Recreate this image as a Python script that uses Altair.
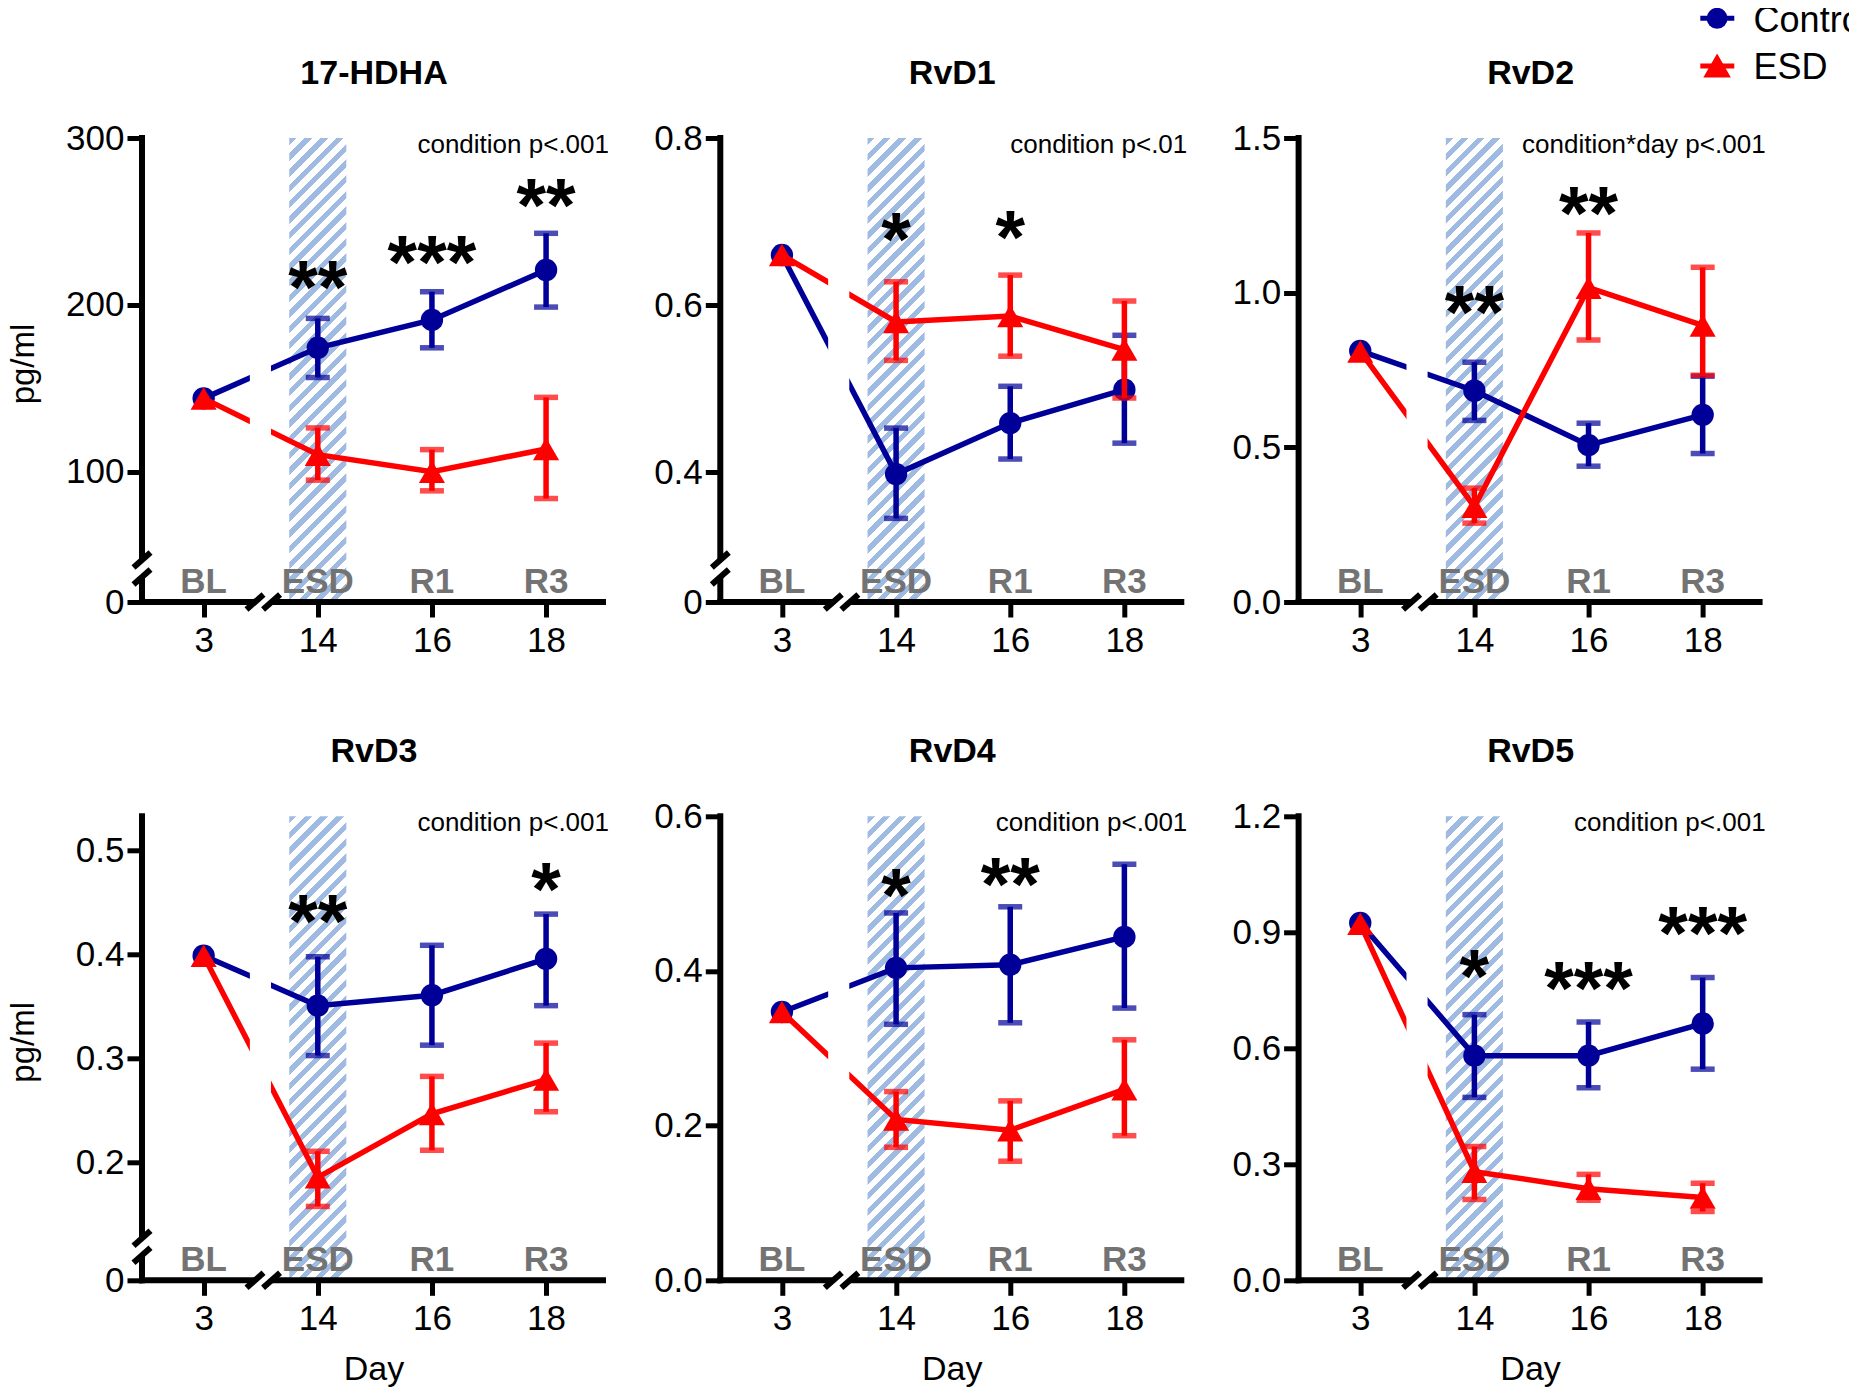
import altair as alt
import pandas as pd

# ---------------- data ----------------
days = [3, 14, 16, 18]
phases = ["BL", "ESD", "R1", "R3"]
esd_window = [13.5, 14.5]

names = ["17-HDHA", "RvD1", "RvD2", "RvD3", "RvD4", "RvD5"]
stats = ["condition p<.001", "condition p<.01", "condition*day p<.001",
         "condition p<.001", "condition p<.001", "condition p<.001"]

hdha_ctrl = [144.0, 174.3, 191.0, 220.9]
hdha_ctrl_hi = [None, 191.9, 207.9, 242.9]
hdha_ctrl_lo = [None, 156.5, 174.3, 198.7]
hdha_esd = [144.0, 110.3, 100.0, 113.7]
hdha_esd_hi = [None, 126.3, 113.3, 144.6]
hdha_esd_lo = [None, 95.0, 88.6, 84.0]
hdha_star_day = [14, 16, 18]
hdha_star = ["**", "***", "**"]
hdha_star_y = [216.6, 231.4, 265.7]
hdha_ticks = [0, 100, 200, 300]

rvd1_ctrl = [0.660, 0.398, 0.459, 0.499]
rvd1_ctrl_hi = [None, 0.453, 0.503, 0.564]
rvd1_ctrl_lo = [None, 0.345, 0.416, 0.435]
rvd1_esd = [0.660, 0.580, 0.587, 0.547]
rvd1_esd_hi = [None, 0.628, 0.636, 0.605]
rvd1_esd_lo = [None, 0.534, 0.539, 0.489]
rvd1_star_day = [14, 16]
rvd1_star = ["*", "*"]
rvd1_star_y = [0.691, 0.694]
rvd1_ticks = [0, 0.4, 0.6, 0.8]

rvd2_ctrl = [0.812, 0.683, 0.507, 0.605]
rvd2_ctrl_hi = [None, 0.775, 0.578, 0.730]
rvd2_ctrl_lo = [None, 0.587, 0.439, 0.480]
rvd2_esd = [0.810, 0.308, 1.016, 0.894]
rvd2_esd_hi = [None, 0.368, 1.193, 1.082]
rvd2_esd_lo = [None, 0.255, 0.847, 0.733]
rvd2_star_day = [14, 16]
rvd2_star = ["**", "**"]
rvd2_star_y = [0.969, 1.29]
rvd2_ticks = [0, 0.5, 1.0, 1.5]

rvd3_ctrl = [0.399, 0.351, 0.361, 0.396]
rvd3_ctrl_hi = [None, 0.398, 0.409, 0.439]
rvd3_ctrl_lo = [None, 0.303, 0.313, 0.351]
rvd3_esd = [0.399, 0.186, 0.247, 0.280]
rvd3_esd_hi = [None, 0.211, 0.283, 0.315]
rvd3_esd_lo = [None, 0.158, 0.212, 0.249]
rvd3_star_day = [14, 18]
rvd3_star = ["**", "*"]
rvd3_star_y = [0.442, 0.473]
rvd3_ticks = [0, 0.2, 0.3, 0.4, 0.5]

rvd4_ctrl = [0.347, 0.404, 0.408, 0.444]
rvd4_ctrl_hi = [None, 0.475, 0.483, 0.538]
rvd4_ctrl_lo = [None, 0.331, 0.333, 0.352]
rvd4_esd = [0.347, 0.208, 0.194, 0.247]
rvd4_esd_hi = [None, 0.244, 0.232, 0.311]
rvd4_esd_lo = [None, 0.172, 0.154, 0.187]
rvd4_star_day = [14, 16]
rvd4_star = ["*", "**"]
rvd4_star_y = [0.511, 0.526]
rvd4_ticks = [0, 0.2, 0.4, 0.6]

rvd5_ctrl = [0.924, 0.581, 0.581, 0.664]
rvd5_ctrl_hi = [None, 0.687, 0.668, 0.783]
rvd5_ctrl_lo = [None, 0.473, 0.498, 0.546]
rvd5_esd = [0.922, 0.281, 0.237, 0.214]
rvd5_esd_hi = [None, 0.346, 0.274, 0.251]
rvd5_esd_lo = [None, 0.209, 0.207, 0.178]
rvd5_star_day = [14, 16, 18]
rvd5_star = ["*", "***", "***"]
rvd5_star_y = [0.814, 0.781, 0.924]
rvd5_ticks = [0, 0.3, 0.6, 0.9, 1.2]

# ---------------- layout / style ----------------
FONT = "Liberation Sans"
W, H = 464, 464
X_MIN, X_MAX = 10.92, 19.05
BREAK_POS = 12          # where day 3 sits on the broken x axis
PX = W / (X_MAX - X_MIN)
BLUE, RED = "#000099", "#ff0000"
HATCH, GRAY = "#a0bbe1", "#737373"
STAR_FS, STAR_DY = 76, 36
LW = 5.5


def xpx(v):
    return (v - X_MIN) * PX


one = pd.DataFrame({"k": [0]})


def seg(x1, y1, x2, y2, w=6, color="black"):
    return alt.Chart(one).mark_rule(strokeWidth=w, color=color, strokeCap="butt").encode(
        x=alt.value(x1), y=alt.value(y1), x2=alt.value(x2), y2=alt.value(y2))


def txt(text, x, y, size, bold=False, color="black", align="center",
        baseline="middle", angle=0):
    return alt.Chart(one).mark_text(
        text=text, fontSize=size, font=FONT, fontWeight="bold" if bold else "normal",
        color=color, align=align, baseline=baseline, angle=angle).encode(
        x=alt.value(x), y=alt.value(y))


# hatch gradient: 45 degree stripes inside a 1-day wide rect
r = H / PX
k = (1 + r) / (1 + r * r)
perp = (PX + H) / 2 ** 0.5
period, on = 11.1, 0.47
stops = []
j = 0
while j * period < perp:
    t0 = min(j * period / perp, 1)
    t1 = min((j + on) * period / perp, 1)
    t2 = min((j + 1) * period / perp, 1)
    stops += [alt.GradientStop(color=HATCH, offset=t0), alt.GradientStop(color=HATCH, offset=t1),
              alt.GradientStop(color="white", offset=t1), alt.GradientStop(color="white", offset=t2)]
    j += 1
hatch_fill = alt.LinearGradient(gradient="linear", stops=stops, x1=0, y1=0, x2=k, y2=k * r)

# layout parameters per panel: (value drawn at the bottom, top, format, broken)
layout = [(22, 300, ".0f", True), (0.245, 0.8, ".1f", True), (0, 1.5, ".1f", False),
          (0.087, 0.533, ".1f", True), (0, 0.6, ".1f", False), (0, 1.2, ".1f", False)]

series = [
    (hdha_ctrl, hdha_ctrl_hi, hdha_ctrl_lo, hdha_esd, hdha_esd_hi, hdha_esd_lo,
     hdha_star_day, hdha_star, hdha_star_y, hdha_ticks),
    (rvd1_ctrl, rvd1_ctrl_hi, rvd1_ctrl_lo, rvd1_esd, rvd1_esd_hi, rvd1_esd_lo,
     rvd1_star_day, rvd1_star, rvd1_star_y, rvd1_ticks),
    (rvd2_ctrl, rvd2_ctrl_hi, rvd2_ctrl_lo, rvd2_esd, rvd2_esd_hi, rvd2_esd_lo,
     rvd2_star_day, rvd2_star, rvd2_star_y, rvd2_ticks),
    (rvd3_ctrl, rvd3_ctrl_hi, rvd3_ctrl_lo, rvd3_esd, rvd3_esd_hi, rvd3_esd_lo,
     rvd3_star_day, rvd3_star, rvd3_star_y, rvd3_ticks),
    (rvd4_ctrl, rvd4_ctrl_hi, rvd4_ctrl_lo, rvd4_esd, rvd4_esd_hi, rvd4_esd_lo,
     rvd4_star_day, rvd4_star, rvd4_star_y, rvd4_ticks),
    (rvd5_ctrl, rvd5_ctrl_hi, rvd5_ctrl_lo, rvd5_esd, rvd5_esd_hi, rvd5_esd_lo,
     rvd5_star_day, rvd5_star, rvd5_star_y, rvd5_ticks),
]


def make_panel(idx):
    ctrl, ctrl_hi, ctrl_lo, esd, esd_hi, esd_lo, sd, sl, sy, ticks = series[idx]
    floor, top, fmt, broken = layout[idx]
    pos = [BREAK_POS if d == days[0] else d for d in days]
    rows = []
    for g, m, hi, lo in [("Control", ctrl, ctrl_hi, ctrl_lo), ("ESD", esd, esd_hi, esd_lo)]:
        for d, p, a, b, c in zip(days, pos, m, hi, lo):
            rows.append(dict(group=g, day=d, pos=p, mean=a, hi=b, lo=c))
    df = pd.DataFrame(rows)

    xs = alt.Scale(domain=[X_MIN, X_MAX], nice=False, zero=False)
    ys = alt.Scale(domain=[floor, top], nice=False, zero=False)
    tick_vals = [floor if t == 0 else t for t in ticks]
    if broken:
        lab = f"datum.value <= {floor + 1e-9} ? '0' : format(datum.value, '{fmt}')"
    else:
        lab = f"format(datum.value, '{fmt}')"
    common = dict(domain=False, grid=False, ticks=True, tickSize=15, tickWidth=5,
                  tickColor="black", labelFont=FONT, labelFontSize=35, labelColor="black",
                  labelFlush=False, labelOverlap=False, zindex=1, title=None)
    xaxis = alt.Axis(values=[BREAK_POS, 14, 16, 18],
                     labelExpr=f"datum.value == {BREAK_POS} ? '3' : datum.label",
                     labelPadding=6.5, **common)
    yaxis = alt.Axis(values=tick_vals, labelExpr=lab, labelPadding=3, **common)

    def X(f):
        return alt.X(f, type="quantitative", scale=xs, axis=xaxis, title=None)

    def Y(f):
        return alt.Y(f, type="quantitative", scale=ys, axis=yaxis, title=None)

    layers = []
    # ESD hatched window
    win = pd.DataFrame({"x0": [esd_window[0]], "x1": [esd_window[1]]})
    layers.append(alt.Chart(win).mark_rect(fill=hatch_fill).encode(
        x=X("x0"), x2=alt.X2("x1"), y=alt.value(0), y2=alt.value(H)))

    for g, c, shape, size in [("Control", BLUE, "circle", 500), ("ESD", RED, "triangle-up", 680)]:
        base = alt.Chart(df).transform_filter(f"datum.group == '{g}'")
        layers.append(base.mark_line(color=c, strokeWidth=LW).encode(x=X("pos"), y=Y("mean")))
        eb = base.transform_filter("isValid(datum.hi)")
        layers.append(eb.mark_rule(color=c, strokeWidth=LW).encode(
            x=X("pos"), y=Y("lo"), y2=alt.Y2("hi")))
        layers.append(eb.mark_tick(color=c, orient="horizontal", size=24, thickness=LW).encode(
            x=X("pos"), y=Y("hi")))
        layers.append(eb.mark_tick(color=c, orient="horizontal", size=24, thickness=LW).encode(
            x=X("pos"), y=Y("lo")))
        layers.append(base.mark_point(shape=shape, filled=True, size=size, color=c,
                                      opacity=1, strokeWidth=0).encode(x=X("pos"), y=Y("mean")))

    # gap of the lines across the broken x axis
    gap = pd.DataFrame({"x0": [12.81], "x1": [13.18]})
    layers.append(alt.Chart(gap).mark_rect(fill="white").encode(
        x=X("x0"), x2=alt.X2("x1"), y=alt.value(0), y2=alt.value(H - 5)))

    # axis lines with breaks
    c1, c2 = xpx(12.9), xpx(13.19)
    layers.append(seg(-3, H, c1, H))
    layers.append(seg(c2, H, W, H))
    for cx in (c1, c2):
        layers.append(seg(cx - 8.5, H + 7.5, cx + 8.5, H - 7.5))
    if broken:
        layers.append(seg(0, -3, 0, H - 42))
        layers.append(seg(0, H - 25, 0, H + 3))
        for cy in (H - 42, H - 25):
            layers.append(seg(-8.5, cy + 7.5, 8.5, cy - 7.5))
    else:
        layers.append(seg(0, -3, 0, H + 3))

    # phase labels
    ph = pd.DataFrame({"pos": pos, "phase": phases})
    layers.append(alt.Chart(ph).mark_text(fontSize=35, fontWeight="bold", color=GRAY, font=FONT,
                                          baseline="alphabetic").encode(
        x=X("pos"), y=alt.value(H - 9), text="phase:N"))

    # significance stars
    st = pd.DataFrame({"pos": sd, "star": sl, "sy": sy})
    layers.append(alt.Chart(st).mark_text(fontSize=STAR_FS, fontWeight="bold", font=FONT,
                                          color="black", baseline="alphabetic", dy=STAR_DY).encode(
        x=X("pos"), y=Y("sy"), text="star:N"))

    layers.append(txt(stats[idx], W + 3, 7, 26, align="right"))
    layers.append(txt(names[idx], W / 2, -54, 34, bold=True, baseline="alphabetic"))
    if idx % 3 == 0:
        layers.append(txt("pg/ml", -118, 226, 33, angle=270))
    if idx >= 3:
        layers.append(txt("Day", W / 2, H + 90, 34))
    if idx == 2:
        layers.append(seg(401.7, -119.7, 435.7, -119.7, w=5, color=BLUE))
        layers.append(alt.Chart(one).mark_point(shape="circle", filled=True, size=441, color=BLUE,
                                                opacity=1).encode(x=alt.value(418.5), y=alt.value(-119.7)))
        layers.append(txt("Control", 455, -117, 36, align="left"))
        layers.append(seg(401.7, -72, 435.7, -72, w=5, color=RED))
        layers.append(alt.Chart(one).mark_point(shape="triangle-up", filled=True, size=760, color=RED,
                                                opacity=1).encode(x=alt.value(418.5), y=alt.value(-72.5)))
        layers.append(txt("ESD", 455, -70.3, 36, align="left"))

    return alt.layer(*layers).properties(width=W, height=H)


panels = [make_panel(i) for i in range(6)]
chart = alt.concat(*panels, columns=3, spacing={"row": 214.3, "column": 114.3},
                   bounds="flush").properties(
    padding={"left": 0, "top": -5, "right": -21, "bottom": 0}
).configure_view(stroke=None)

chart.save("out.html", embed_options={"renderer": "svg", "actions": False})
